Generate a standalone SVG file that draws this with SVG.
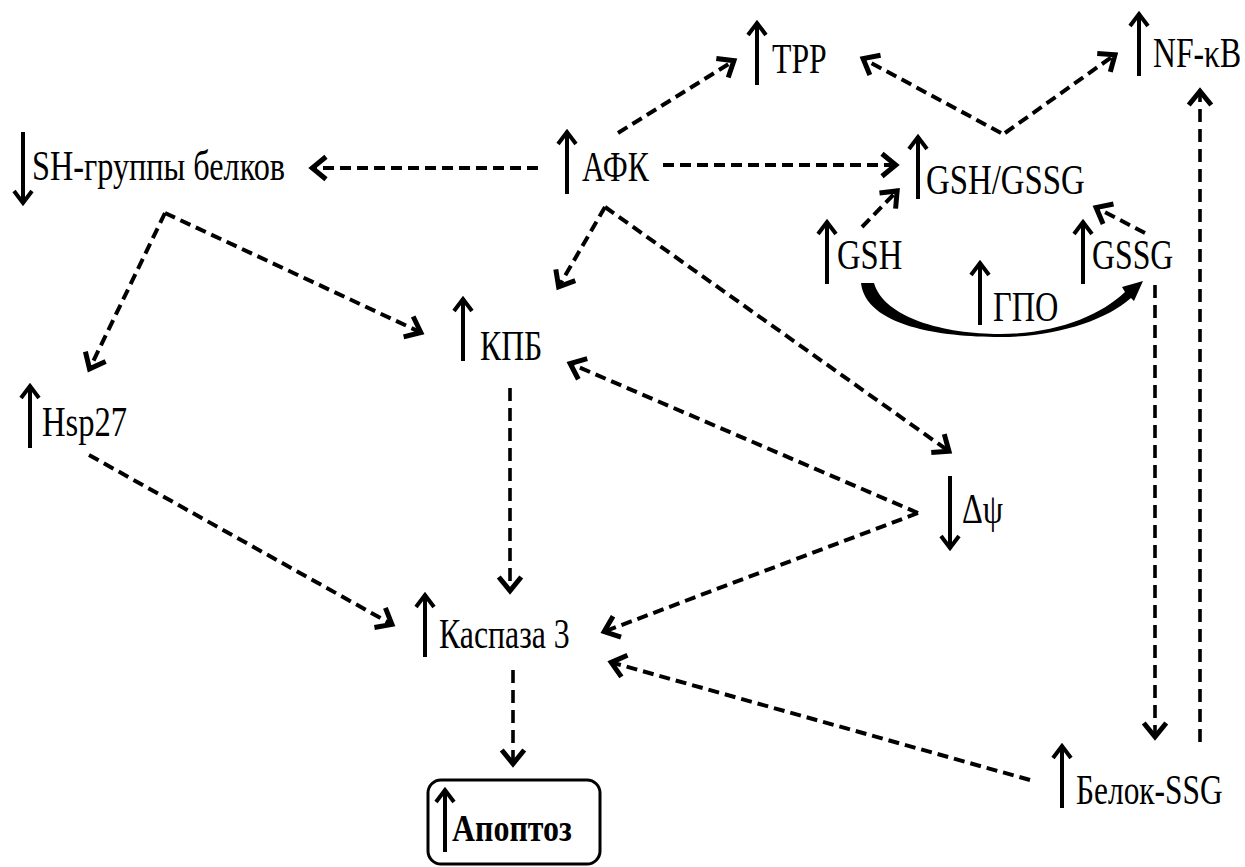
<svg xmlns="http://www.w3.org/2000/svg" width="1245" height="867" viewBox="0 0 1245 867" font-family="'Liberation Serif', 'Times New Roman', serif">
<style>
text{font-family:'Liberation Serif','Times New Roman',serif;font-size:43px;fill:#000;font-weight:normal}
.b{font-weight:bold;font-size:37px}
.ind{stroke:#000;stroke-width:4;fill:none;stroke-linejoin:miter}
.d{stroke:#000;stroke-width:4;fill:none;stroke-dasharray:11 6}
.v{stroke:#000;stroke-width:3.6;fill:none;stroke-dasharray:13 7}
</style>
<defs>
<marker id="ah" markerUnits="userSpaceOnUse" markerWidth="30" markerHeight="30" viewBox="-16 -12 20 24" refX="0" refY="0" orient="auto">
<path d="M-12,-9 L-1,0 L-12,9" stroke="#000" stroke-width="4" fill="none"/>
</marker>
<path id="up" d="M0,0 V63 M-9,13 L0,1 L9,13" class="ind"/>
</defs>
<rect width="1245" height="867" fill="#fff"/>
<g id="connectors">
<line class="d" x1="618" y1="133" x2="735" y2="60" marker-end="url(#ah)"/>
<line class="d" x1="1001" y1="133" x2="862" y2="58" marker-end="url(#ah)"/>
<line class="d" x1="1005" y1="133" x2="1116" y2="54" marker-end="url(#ah)"/>
<line class="d" x1="538" y1="168" x2="311" y2="168" marker-end="url(#ah)"/>
<line class="d" x1="663" y1="165" x2="897" y2="165" marker-end="url(#ah)"/>
<line class="d" x1="605" y1="207" x2="558" y2="288" marker-end="url(#ah)"/>
<line class="d" x1="605" y1="207" x2="950" y2="452" marker-end="url(#ah)"/>
<line class="d" x1="165" y1="213" x2="422" y2="333" marker-end="url(#ah)"/>
<line class="d" x1="165" y1="213" x2="89" y2="370" marker-end="url(#ah)"/>
<line class="d" x1="862" y1="227" x2="898" y2="190" marker-end="url(#ah)"/>
<line class="d" x1="1145" y1="233" x2="1095" y2="207" marker-end="url(#ah)"/>
<line class="v" x1="1155" y1="285" x2="1155" y2="738" marker-end="url(#ah)"/>
<line class="v" x1="1200" y1="742" x2="1200" y2="90" marker-end="url(#ah)"/>
<line class="d" x1="918" y1="513" x2="569" y2="363" marker-end="url(#ah)"/>
<line class="d" x1="918" y1="513" x2="603" y2="632" marker-end="url(#ah)"/>
<line class="d" x1="89" y1="455" x2="393" y2="625" marker-end="url(#ah)"/>
<line class="v" x1="510" y1="388" x2="510" y2="592" marker-end="url(#ah)"/>
<line class="d" x1="1030" y1="780" x2="610" y2="662" marker-end="url(#ah)"/>
<line class="v" x1="513" y1="670" x2="513" y2="765" marker-end="url(#ah)"/>
<path id="gpo-curve" d="M861,283 L874,283 C884,318 945,334 1000,334 C1055,334 1100,316 1125,292 L1122,287 L1143,281 L1134,301 L1131,298 C1105,321 1055,337 1000,337 C940,337 866,326 861,283 Z" fill="#000"/>
</g>
<g id="n-tpp"><use href="#up" x="757" y="22"/><text transform="translate(772,73) scale(0.76,1)" textLength="72" lengthAdjust="spacingAndGlyphs">TPP</text></g>
<g id="n-nfkb"><use href="#up" x="1139" y="13"/><text transform="translate(1153,67) scale(0.76,1)" textLength="116" lengthAdjust="spacingAndGlyphs">NF-κB</text></g>
<g id="n-sh"><path d="M23,132 V204 M14,191 L23,203 L32,191" class="ind"/><text transform="translate(32,180) scale(0.76,1)" textLength="333" lengthAdjust="spacingAndGlyphs">SH-группы белков</text></g>
<g id="n-afk"><use href="#up" x="567" y="131"/><text transform="translate(582,181) scale(0.76,1)" textLength="88" lengthAdjust="spacingAndGlyphs">АФК</text></g>
<g id="n-gshgssg"><use href="#up" x="918" y="136"/><text transform="translate(926,194) scale(0.76,1)" textLength="209" lengthAdjust="spacingAndGlyphs">GSH/GSSG</text></g>
<g id="n-gsh"><use href="#up" x="827" y="221"/><text transform="translate(837,269) scale(0.76,1)" textLength="86" lengthAdjust="spacingAndGlyphs">GSH</text></g>
<g id="n-gssg"><use href="#up" x="1083" y="221"/><text transform="translate(1092,269) scale(0.76,1)" textLength="107" lengthAdjust="spacingAndGlyphs">GSSG</text></g>
<g id="n-gpo"><use href="#up" x="980" y="262"/><text transform="translate(993,321) scale(0.76,1)" textLength="86" lengthAdjust="spacingAndGlyphs">ГПО</text></g>
<g id="n-kpb"><use href="#up" x="463" y="298"/><text transform="translate(480,360) scale(0.76,1)" textLength="82" lengthAdjust="spacingAndGlyphs">КПБ</text></g>
<g id="n-hsp27"><use href="#up" x="30" y="385"/><text transform="translate(42,436) scale(0.76,1)" textLength="112" lengthAdjust="spacingAndGlyphs">Hsp27</text></g>
<g id="n-dpsi"><path d="M950,476 V549 M941,536 L950,548 L959,536" class="ind"/><text transform="translate(962,523) scale(0.76,1)" textLength="54" lengthAdjust="spacingAndGlyphs">Δψ</text></g>
<g id="n-casp3"><use href="#up" x="425" y="594"/><text transform="translate(439,648) scale(0.76,1)" textLength="172" lengthAdjust="spacingAndGlyphs">Каспаза 3</text></g>
<g id="n-protssg"><use href="#up" x="1062" y="745"/><text transform="translate(1076,804) scale(0.76,1)" textLength="193" lengthAdjust="spacingAndGlyphs">Белок-SSG</text></g>
<g id="n-apoptosis"><rect x="428" y="780" width="172" height="84" rx="13" fill="none" stroke="#000" stroke-width="3"/><use href="#up" x="445" y="789"/><text class="b" transform="translate(452,841) scale(0.85,1)" textLength="141" lengthAdjust="spacingAndGlyphs">Апоптоз</text></g>
</svg>
